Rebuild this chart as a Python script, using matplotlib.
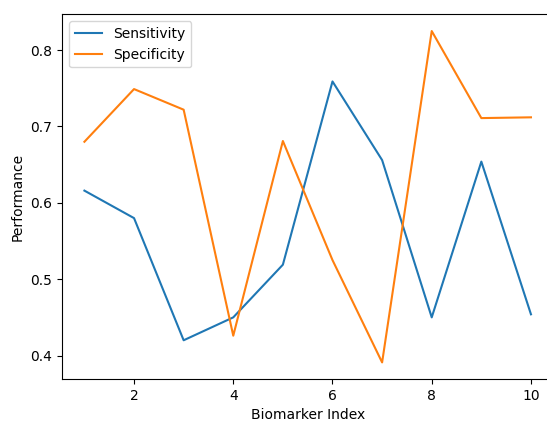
import matplotlib
matplotlib.use("Agg")
import matplotlib.pyplot as plt

biomarker_index = [1, 2, 3, 4, 5, 6, 7, 8, 9, 10]
sensitivity = [0.616, 0.580, 0.420, 0.450, 0.519, 0.759, 0.656, 0.450, 0.654, 0.454]
specificity = [0.680, 0.749, 0.722, 0.426, 0.681, 0.525, 0.391, 0.825, 0.711, 0.712]

fig = plt.figure(figsize=(5.47, 4.21), dpi=100)
# right spine falls just outside the picture in the reference
ax = fig.add_axes([0.1135, 0.0998, 0.898, 0.8658])

ax.plot(biomarker_index, sensitivity, label='Sensitivity')
ax.plot(biomarker_index, specificity, label='Specificity')

ax.set_xlabel('Biomarker Index')
ax.set_ylabel('Performance')
ax.legend(loc='upper left')

fig.savefig('out.png', dpi=100)
